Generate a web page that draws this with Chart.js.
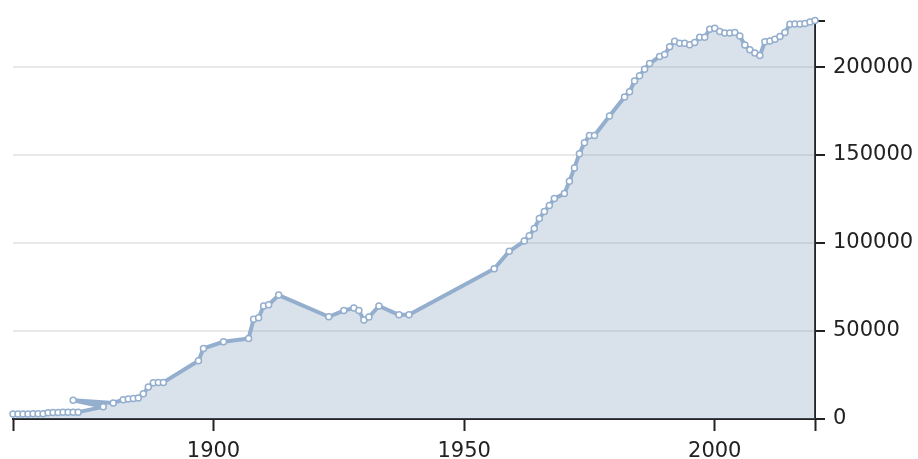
<!DOCTYPE html>
<html><head><meta charset="utf-8">
<script src="https://cdn.jsdelivr.net/npm/chart.js@4"></script>
<style>html,body{margin:0;padding:0;background:#fff;} #wrap{width:918px;height:459px;}</style>
</head><body><div id="wrap"><canvas id="c" width="918" height="459"></canvas></div>
<script>
const years = [1860,1861,1862,1863,1864,1865,1866,1867,1868,1869,1870,1871,1872,1873,1878,1872,1880,1882,1883,1884,1885,1886,1887,1888,1889,1890,1897,1898,1902,1907,1908,1909,1910,1911,1913,1923,1926,1928,1929,1930,1931,1933,1937,1939,1956,1959,1962,1963,1964,1965,1966,1967,1968,1970,1971,1972,1973,1974,1975,1976,1979,1982,1983,1984,1985,1986,1987,1989,1990,1991,1992,1993,1994,1995,1996,1997,1998,1999,2000,2001,2002,2003,2004,2005,2006,2007,2008,2009,2010,2011,2012,2013,2014,2015,2016,2017,2018,2019,2020];
const values = [2800,2850,2900,2900,2950,2950,3000,3600,3700,3750,3800,3800,3850,3900,6900,10600,9100,11000,11300,11600,12000,14400,18200,20600,20700,20800,33100,40100,43900,45700,56700,57500,64200,64900,70400,58100,61600,63100,61600,56300,57900,64200,59200,59200,85400,95300,101100,104200,108200,114000,117900,121300,125300,128100,135100,142700,150800,157000,161100,161100,172200,183000,185900,192100,195000,198800,202000,206000,207100,211600,214600,213500,213500,212700,213900,217000,217000,221500,222100,220200,219300,219300,219700,217600,212500,209800,208000,206500,214400,214800,215800,217300,219600,224300,224400,224500,224800,225600,226400];
const xTicks = [1860, 1900, 1950, 2000, 2020];
const xLabels = ['', '1900', '1950', '2000', ''];
const yMax = Math.max(...values);
const yTicks = [0, 50000, 100000, 150000, 200000, yMax];
const yLabels = ['0', '50000', '100000', '150000', '200000', ''];

const lineColor = 'rgb(148,174,206)';
const fillColor = 'rgba(130,155,185,0.3)';
const font = {family: 'DejaVu Sans', size: 21};
const textColor = '#222';

new Chart(document.getElementById('c'), {
  type: 'line',
  data: {
    datasets: [{
      data: years.map((y, i) => ({x: y, y: values[i]})),
      borderColor: lineColor,
      borderWidth: 4,
      borderJoinStyle: 'round',
      backgroundColor: fillColor,
      fill: 'origin',
      tension: 0,
      pointRadius: 3,
      pointBackgroundColor: '#fff',
      pointBorderColor: lineColor,
      pointBorderWidth: 1.5,
      clip: false
    }]
  },
  options: {
    responsive: false,
    animation: false,
    layout: {padding: {left: 13, top: 18, right: 0, bottom: 0}},
    plugins: {legend: {display: false}, tooltip: {enabled: false}},
    scales: {
      x: {
        type: 'linear', min: 1860, max: 2020,
        afterBuildTicks: a => { a.ticks = xTicks.map(v => ({value: v})); },
        afterFit: s => { s.height = 40; },
        ticks: {autoSkip: false, maxRotation: 0, padding: 8, font: font, color: textColor,
          callback: (v, i) => xLabels[i]},
        grid: {drawOnChartArea: false, tickLength: 12, tickColor: '#222', tickWidth: 2},
        border: {color: '#222', width: 2}
      },
      y: {
        position: 'right', min: 0, max: yMax,
        afterBuildTicks: a => { a.ticks = yTicks.map(v => ({value: v})); },
        afterFit: s => { s.width = 103; },
        ticks: {autoSkip: false, padding: 8, font: font, color: textColor,
          callback: (v, i) => yLabels[i]},
        grid: {
          color: c => (c.tick && (c.tick.value === 0 || c.tick.value === yMax)) ? 'rgba(0,0,0,0)' : '#e8e8e8',
          lineWidth: 2, tickLength: 10, tickColor: '#222', tickWidth: 2
        },
        border: {color: '#222', width: 2}
      }
    }
  }
});
</script>
</body></html>
